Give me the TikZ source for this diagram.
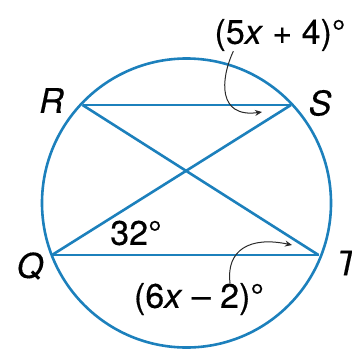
\documentclass[tikz,border=0pt]{standalone}
\usepackage{fontspec}
\setmainfont{TeX Gyre Heros}[FakeBold=0.4]
\usetikzlibrary{arrows.meta, positioning, calc}
\definecolor{chordblue}{HTML}{1C80BC}
\definecolor{pointer}  {HTML}{2A2A2A}

\begin{document}
\begin{tikzpicture}[
    x=1pt, y=-1pt,
    chord/.style={draw=chordblue, line width=2.6pt},
    lbl/.style={font=\fontsize{34}{38}\selectfont\itshape, inner sep=0pt},
    val/.style={font=\fontsize{34}{38}\selectfont, inner sep=0pt},
    ptr/.style={-{Stealth[length=7pt, width=6pt]}, line width=1pt, color=pointer},
  ]
    \useasboundingbox (0,0) rectangle (352,351);

    % points on the circle
    \coordinate (O) at (186.5,203);
    \coordinate (R) at (82.5,105);
    \coordinate (S) at (291,105);
    \coordinate (Q) at (52,255);
    \coordinate (T) at (318.5,255);

    \draw[chord] (O) circle[radius=144.5pt];
    \draw[chord] (R) -- (S);
    \draw[chord] (Q) -- (T);
    \draw[chord] (R) -- (T);
    \draw[chord] (Q) -- (S);

    \node[lbl] (labR) at (51.5,100.5) {R};
    \node[lbl] (labS) at (320,103)    {S};
    \node[lbl] (labQ) at (30,266)     {Q};
    \node[lbl] (labT) at (347,263)    {T};

    \node[val] (top) at (280,35)  {(5\textit{x} + 4)°};
    \node[val] (ang) at (136,233) {32°};
    \node[val] (bot) at (199,299) {(6\textit{x} – 2)°};

    \coordinate (tipS) at (262,112);
    \coordinate (tipT) at (292,245);

    \draw[ptr] ($(top.south west)+(19,0)$) .. controls (220,80) and (218,118) .. (tipS);
    \draw[ptr] ($(bot.north)+(31,0)$) .. controls (226,250) and (250,236) .. (tipT);
  \end{tikzpicture}
\end{document}
